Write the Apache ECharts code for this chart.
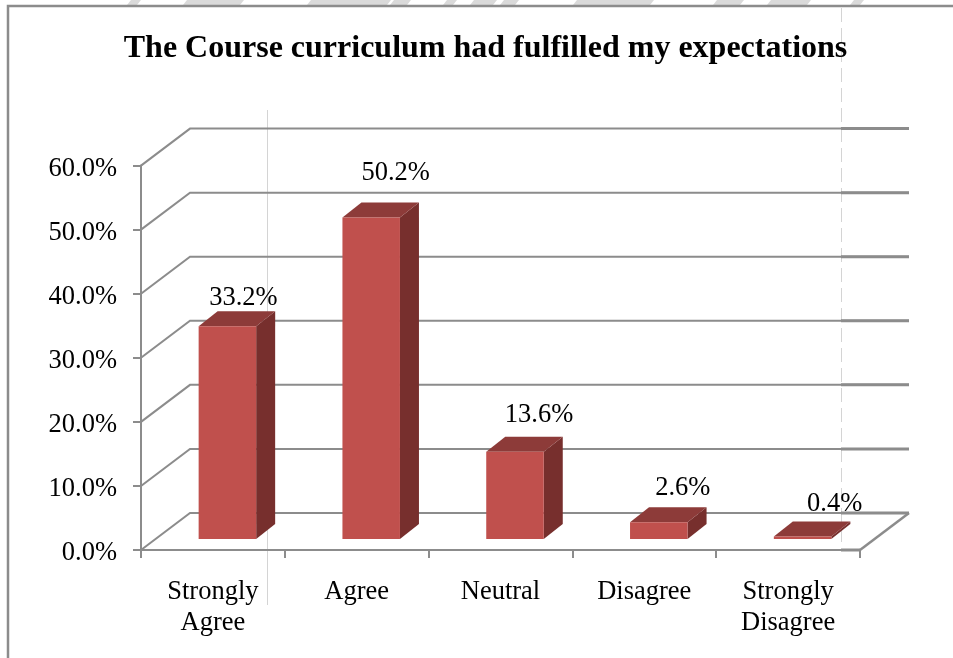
<!DOCTYPE html>
<html>
<head>
<meta charset="utf-8">
<style>
  html, body { margin: 0; padding: 0; background: #fff; }
  #main { width: 953px; height: 658px; }
</style>
<script src="https://cdn.jsdelivr.net/npm/echarts@6/dist/echarts.min.js"></script>
</head>
<body>
<div id="main"></div>
<script>
var categories = ["Strongly\nAgree", "Agree", "Neutral", "Disagree", "Strongly\nDisagree"];
var percents = [33.2, 50.2, 13.6, 2.6, 0.4];
var yTicks = [0, 10, 20, 30, 40, 50, 60];

var gray = "#8c8c8c";
var serif = '"Liberation Serif", "Times New Roman", serif';
// depth of the fake 3d box, in pixels
var wallDx = 49, wallDy = 37;
var barDx = 19, barDy = 15, barShiftX = 14.5, barShiftY = 11;
// data labels are hand placed in the original, offset from the bar's back top edge
var labelDx = [16, 24.5, 24, 24, 32];
var labelDy = [-13, -29, -22, -19, -17];
// watermark scraps showing above the frame in the scan: [from x, to x]
var smudges = [[127, 137], [183, 240], [307, 387], [390, 407], [443, 453], [470, 493], [500, 515], [573, 650], [713, 740], [767, 807], [850, 860]];

function renderWall(params, api) {
  var box = params.coordSys;
  var v = api.value(0);
  var y = api.coord([0, v])[1];
  var x0 = box.x, x1 = box.x + box.width;
  var children = [
    {
      type: "polyline",
      shape: { points: [[x0, y], [x0 + wallDx, y - wallDy], [x1 + wallDx, y - wallDy]] },
      style: { fill: null, stroke: gray, lineWidth: 2 }
    },
    {
      type: "line",
      shape: { x1: 841, y1: y - wallDy, x2: x1 + wallDx, y2: y - wallDy },
      style: { stroke: gray, lineWidth: 3 }
    }
  ];
  if (v === 0) {
    children.push({
      type: "line",
      shape: { x1: x1, y1: y, x2: x1 + wallDx, y2: y - wallDy },
      style: { stroke: gray, lineWidth: 2.5 }
    });
    children.push({
      type: "line",
      shape: { x1: 841, y1: y, x2: x1, y2: y },
      style: { stroke: gray, lineWidth: 3 }
    });
  }
  return { type: "group", children: children };
}

function renderBar(params, api) {
  var i = api.value(0);
  var base = api.coord([i, 0]);
  var top = api.coord([i, api.value(1)]);
  var w = api.size([1, 0])[0] * 0.4;
  var l = base[0] - w / 2 + barShiftX;
  var r = l + w;
  var b = base[1] - barShiftY;
  var t = top[1] - barShiftY;
  return {
    type: "group",
    children: [
      {
        type: "polygon",
        shape: { points: [[r, t], [r + barDx, t - barDy], [r + barDx, b - barDy], [r, b]] },
        style: { fill: "#772F2D" }
      },
      {
        type: "polygon",
        shape: { points: [[l, t], [l + barDx, t - barDy], [r + barDx, t - barDy], [r, t]] },
        style: { fill: "#8D3B39" }
      },
      {
        type: "rect",
        shape: { x: l, y: t, width: w, height: b - t },
        style: { fill: "#C0504D" }
      },
      {
        type: "text",
        x: base[0] + barShiftX + labelDx[i],
        y: t - barDy + labelDy[i],
        style: {
          text: api.value(1).toFixed(1) + "%",
          font: "26.5px " + serif,
          fill: "#000",
          align: "center",
          verticalAlign: "middle"
        }
      }
    ]
  };
}

var graphics = [
  // page frame, runs off the right and bottom of the scan
  { type: "rect", z: -1, shape: { x: 8, y: 6, width: 1000, height: 700 }, style: { fill: "none", stroke: gray, lineWidth: 2.5 } },
  // faint scan lines
  { type: "line", z: -1, shape: { x1: 267.5, y1: 110, x2: 267.5, y2: 605 }, style: { stroke: "#d4d4d4", lineWidth: 1 } },
  { type: "line", z: -1, shape: { x1: 841.5, y1: 8, x2: 841.5, y2: 545 }, style: { stroke: "#d4d4d4", lineWidth: 1, lineDash: [14, 6] } }
];
smudges.forEach(function (s) {
  graphics.push({
    type: "polygon",
    z: -2,
    shape: { points: [[s[0], 5], [s[0] + 4, 0], [s[1] + 4, 0], [s[1], 5]] },
    style: { fill: "#dadada" }
  });
});

var myChart = echarts.init(document.getElementById("main"), null, { renderer: "canvas" });
var option = {
  animation: false,
  backgroundColor: "#fff",
  title: {
    text: "The Course curriculum had fulfilled my expectations",
    left: 480.5,
    top: 28,
    textAlign: "center",
    textStyle: { fontFamily: serif, fontSize: 32, fontWeight: "bold", color: "#000" }
  },
  grid: { left: 141, right: 93, top: 165.6, bottom: 108 },
  xAxis: {
    type: "category",
    data: categories,
    axisLine: { show: true, lineStyle: { color: gray, width: 2 } },
    axisTick: { show: true, inside: false, length: 8, lineStyle: { color: gray, width: 2 } },
    axisLabel: {
      interval: 0,
      margin: 27,
      color: "#000",
      fontFamily: serif,
      fontSize: 26.5,
      lineHeight: 31
    }
  },
  yAxis: {
    type: "value",
    min: 0,
    max: 60,
    interval: 10,
    axisLine: { show: true, lineStyle: { color: gray, width: 2 } },
    axisTick: { show: true, inside: false, length: 8, lineStyle: { color: gray, width: 2 } },
    splitLine: { show: false },
    axisLabel: {
      margin: 24,
      verticalAlign: "top",
      lineHeight: 6,
      color: "#000",
      fontFamily: serif,
      fontSize: 26.5,
      formatter: function (v) { return v.toFixed(1) + "%"; }
    }
  },
  series: [
    {
      type: "custom",
      clip: false,
      silent: true,
      z: 1,
      renderItem: renderWall,
      encode: { y: 0 },
      data: yTicks.map(function (v) { return [v]; })
    },
    {
      type: "custom",
      clip: false,
      z: 2,
      renderItem: renderBar,
      encode: { x: 0, y: 1 },
      data: percents.map(function (p, i) { return [i, p]; })
    }
  ],
  graphic: graphics
};
option && myChart.setOption(option);
</script>
</body>
</html>
